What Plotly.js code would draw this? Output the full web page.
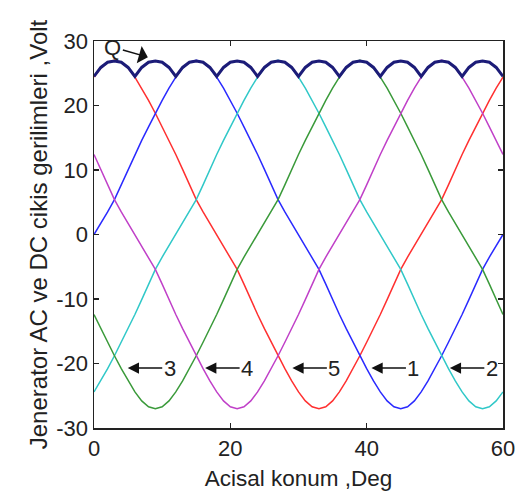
<!DOCTYPE html>
<html>
<head>
<meta charset="utf-8">
<script src="https://cdn.plot.ly/plotly-3.0.1.min.js"></script>
<style>html,body{margin:0;padding:0;background:#fff;}#chart{width:521px;height:495px;}</style>
</head>
<body>
<div id="chart"></div>
<script>
// Angular position, degrees
const angle = [0,1,2,3,4,5,6,7,8,9,10,11,12,13,14,15,16,17,18,19,20,21,22,23,24,25,26,27,28,29,30,31,32,33,34,35,36,37,38,39,40,41,42,43,44,45,46,47,48,49,50,51,52,53,54,55,56,57,58,59,60];

// Phase voltages (V)
const phaseRed = [24.4,25.8,26.7,27.0,26.7,25.8,24.4,22.7,20.8,18.8,16.7,14.6,12.4,10.1,7.7,5.4,3.5,1.7,0,-1.7,-3.5,-5.4,-7.7,-10.1,-12.4,-14.6,-16.7,-18.8,-20.8,-22.7,-24.4,-25.8,-26.7,-27.0,-26.7,-25.8,-24.4,-22.7,-20.8,-18.8,-16.7,-14.6,-12.4,-10.1,-7.7,-5.4,-3.5,-1.7,0,1.7,3.5,5.4,7.7,10.1,12.4,14.6,16.7,18.8,20.8,22.7,24.4];
const phaseBlue = [0,1.7,3.5,5.4,7.7,10.1,12.4,14.6,16.7,18.8,20.8,22.7,24.4,25.8,26.7,27.0,26.7,25.8,24.4,22.7,20.8,18.8,16.7,14.6,12.4,10.1,7.7,5.4,3.5,1.7,0,-1.7,-3.5,-5.4,-7.7,-10.1,-12.4,-14.6,-16.7,-18.8,-20.8,-22.7,-24.4,-25.8,-26.7,-27.0,-26.7,-25.8,-24.4,-22.7,-20.8,-18.8,-16.7,-14.6,-12.4,-10.1,-7.7,-5.4,-3.5,-1.7,0];
const phaseCyan = [-24.4,-22.7,-20.8,-18.8,-16.7,-14.6,-12.4,-10.1,-7.7,-5.4,-3.5,-1.7,0,1.7,3.5,5.4,7.7,10.1,12.4,14.6,16.7,18.8,20.8,22.7,24.4,25.8,26.7,27.0,26.7,25.8,24.4,22.7,20.8,18.8,16.7,14.6,12.4,10.1,7.7,5.4,3.5,1.7,0,-1.7,-3.5,-5.4,-7.7,-10.1,-12.4,-14.6,-16.7,-18.8,-20.8,-22.7,-24.4,-25.8,-26.7,-27.0,-26.7,-25.8,-24.4];
const phaseGreen = [-12.4,-14.6,-16.7,-18.8,-20.8,-22.7,-24.4,-25.8,-26.7,-27.0,-26.7,-25.8,-24.4,-22.7,-20.8,-18.8,-16.7,-14.6,-12.4,-10.1,-7.7,-5.4,-3.5,-1.7,0,1.7,3.5,5.4,7.7,10.1,12.4,14.6,16.7,18.8,20.8,22.7,24.4,25.8,26.7,27.0,26.7,25.8,24.4,22.7,20.8,18.8,16.7,14.6,12.4,10.1,7.7,5.4,3.5,1.7,0,-1.7,-3.5,-5.4,-7.7,-10.1,-12.4];
const phaseMagenta = [12.4,10.1,7.7,5.4,3.5,1.7,0,-1.7,-3.5,-5.4,-7.7,-10.1,-12.4,-14.6,-16.7,-18.8,-20.8,-22.7,-24.4,-25.8,-26.7,-27.0,-26.7,-25.8,-24.4,-22.7,-20.8,-18.8,-16.7,-14.6,-12.4,-10.1,-7.7,-5.4,-3.5,-1.7,0,1.7,3.5,5.4,7.7,10.1,12.4,14.6,16.7,18.8,20.8,22.7,24.4,25.8,26.7,27.0,26.7,25.8,24.4,22.7,20.8,18.8,16.7,14.6,12.4];
// DC output (Q)
const dcOutput = [24.5,25.9,26.7,26.9,26.7,25.9,24.5,25.9,26.7,26.9,26.7,25.9,24.5,25.9,26.7,26.9,26.7,25.9,24.5,25.9,26.7,26.9,26.7,25.9,24.5,25.9,26.7,26.9,26.7,25.9,24.5,25.9,26.7,26.9,26.7,25.9,24.5,25.9,26.7,26.9,26.7,25.9,24.5,25.9,26.7,26.9,26.7,25.9,24.5,25.9,26.7,26.9,26.7,25.9,24.5,25.9,26.7,26.9,26.7,25.9,24.5];

const xTicks = [0,20,40,60];
const yTicks = [-30,-20,-10,0,10,20,30];
const phaseLabels = ['3','4','5','1','2'];
const phaseLabelAngles = [4.95,16.3,29.1,40.7,52.2];
const phaseLabelVolt = -20.7;

const FONT = 'Liberation Sans, Arial, sans-serif';
const series = [
  {y: phaseRed, c: '#ff3030', n: 'Faz 5'},
  {y: phaseBlue, c: '#2a2aff', n: 'Faz 1'},
  {y: phaseCyan, c: '#30c8c8', n: 'Faz 2'},
  {y: phaseGreen, c: '#3a9a3a', n: 'Faz 3'},
  {y: phaseMagenta, c: '#c040c8', n: 'Faz 4'}
];
const traces = series.map(s => ({
  x: angle, y: s.y, type: 'scatter', mode: 'lines', name: s.n,
  line: {color: s.c, width: 1.5}
}));
traces.push({x: angle, y: dcOutput, type: 'scatter', mode: 'lines', name: 'Q',
  line: {color: '#1c1c78', width: 3}});

const annotations = phaseLabels.map((t, i) => ({
  x: phaseLabelAngles[i], y: phaseLabelVolt, xref: 'x', yref: 'y',
  text: t, showarrow: true, ax: 42, ay: 0,
  arrowhead: 2, arrowsize: 1.5, arrowwidth: 1.5, arrowcolor: '#111',
  font: {family: FONT, size: 22, color: '#222'}
}));
annotations.push({
  x: 7.9, y: 27.5, xref: 'x', yref: 'y', text: 'Q', showarrow: true,
  ax: -35, ay: -10, arrowhead: 1, arrowsize: 2, arrowwidth: 1.5, arrowcolor: '#111',
  font: {family: FONT, size: 22, color: '#222'}
});

const axisCommon = {
  showline: true, linecolor: '#222', linewidth: 1.5, mirror: 'ticks',
  ticks: 'inside', ticklen: 5, tickwidth: 1.2, tickcolor: '#222',
  showgrid: false, zeroline: false,
  tickfont: {family: FONT, size: 22, color: '#222'}
};
const layout = {
  width: 521, height: 495,
  margin: {l: 94, r: 18, t: 41, b: 67},
  paper_bgcolor: '#fff', plot_bgcolor: '#fff',
  showlegend: false,
  xaxis: Object.assign({}, axisCommon, {
    range: [0, 60], tickmode: 'array', tickvals: xTicks, ticktext: xTicks.map(String),
    title: {text: 'Acisal konum ,Deg', font: {family: FONT, size: 22.5, color: '#222'}, standoff: 10}
  }),
  yaxis: Object.assign({}, axisCommon, {
    range: [-30, 30], tickmode: 'array', tickvals: yTicks, ticktext: yTicks.map(String),
    title: {text: 'Jenerator AC ve DC cikis gerilimleri ,Volt', font: {family: FONT, size: 24, color: '#222'}, standoff: 2}
  }),
  annotations: annotations
};
Plotly.newPlot('chart', traces, layout, {displayModeBar: false, staticPlot: true});
</script>
</body>
</html>
